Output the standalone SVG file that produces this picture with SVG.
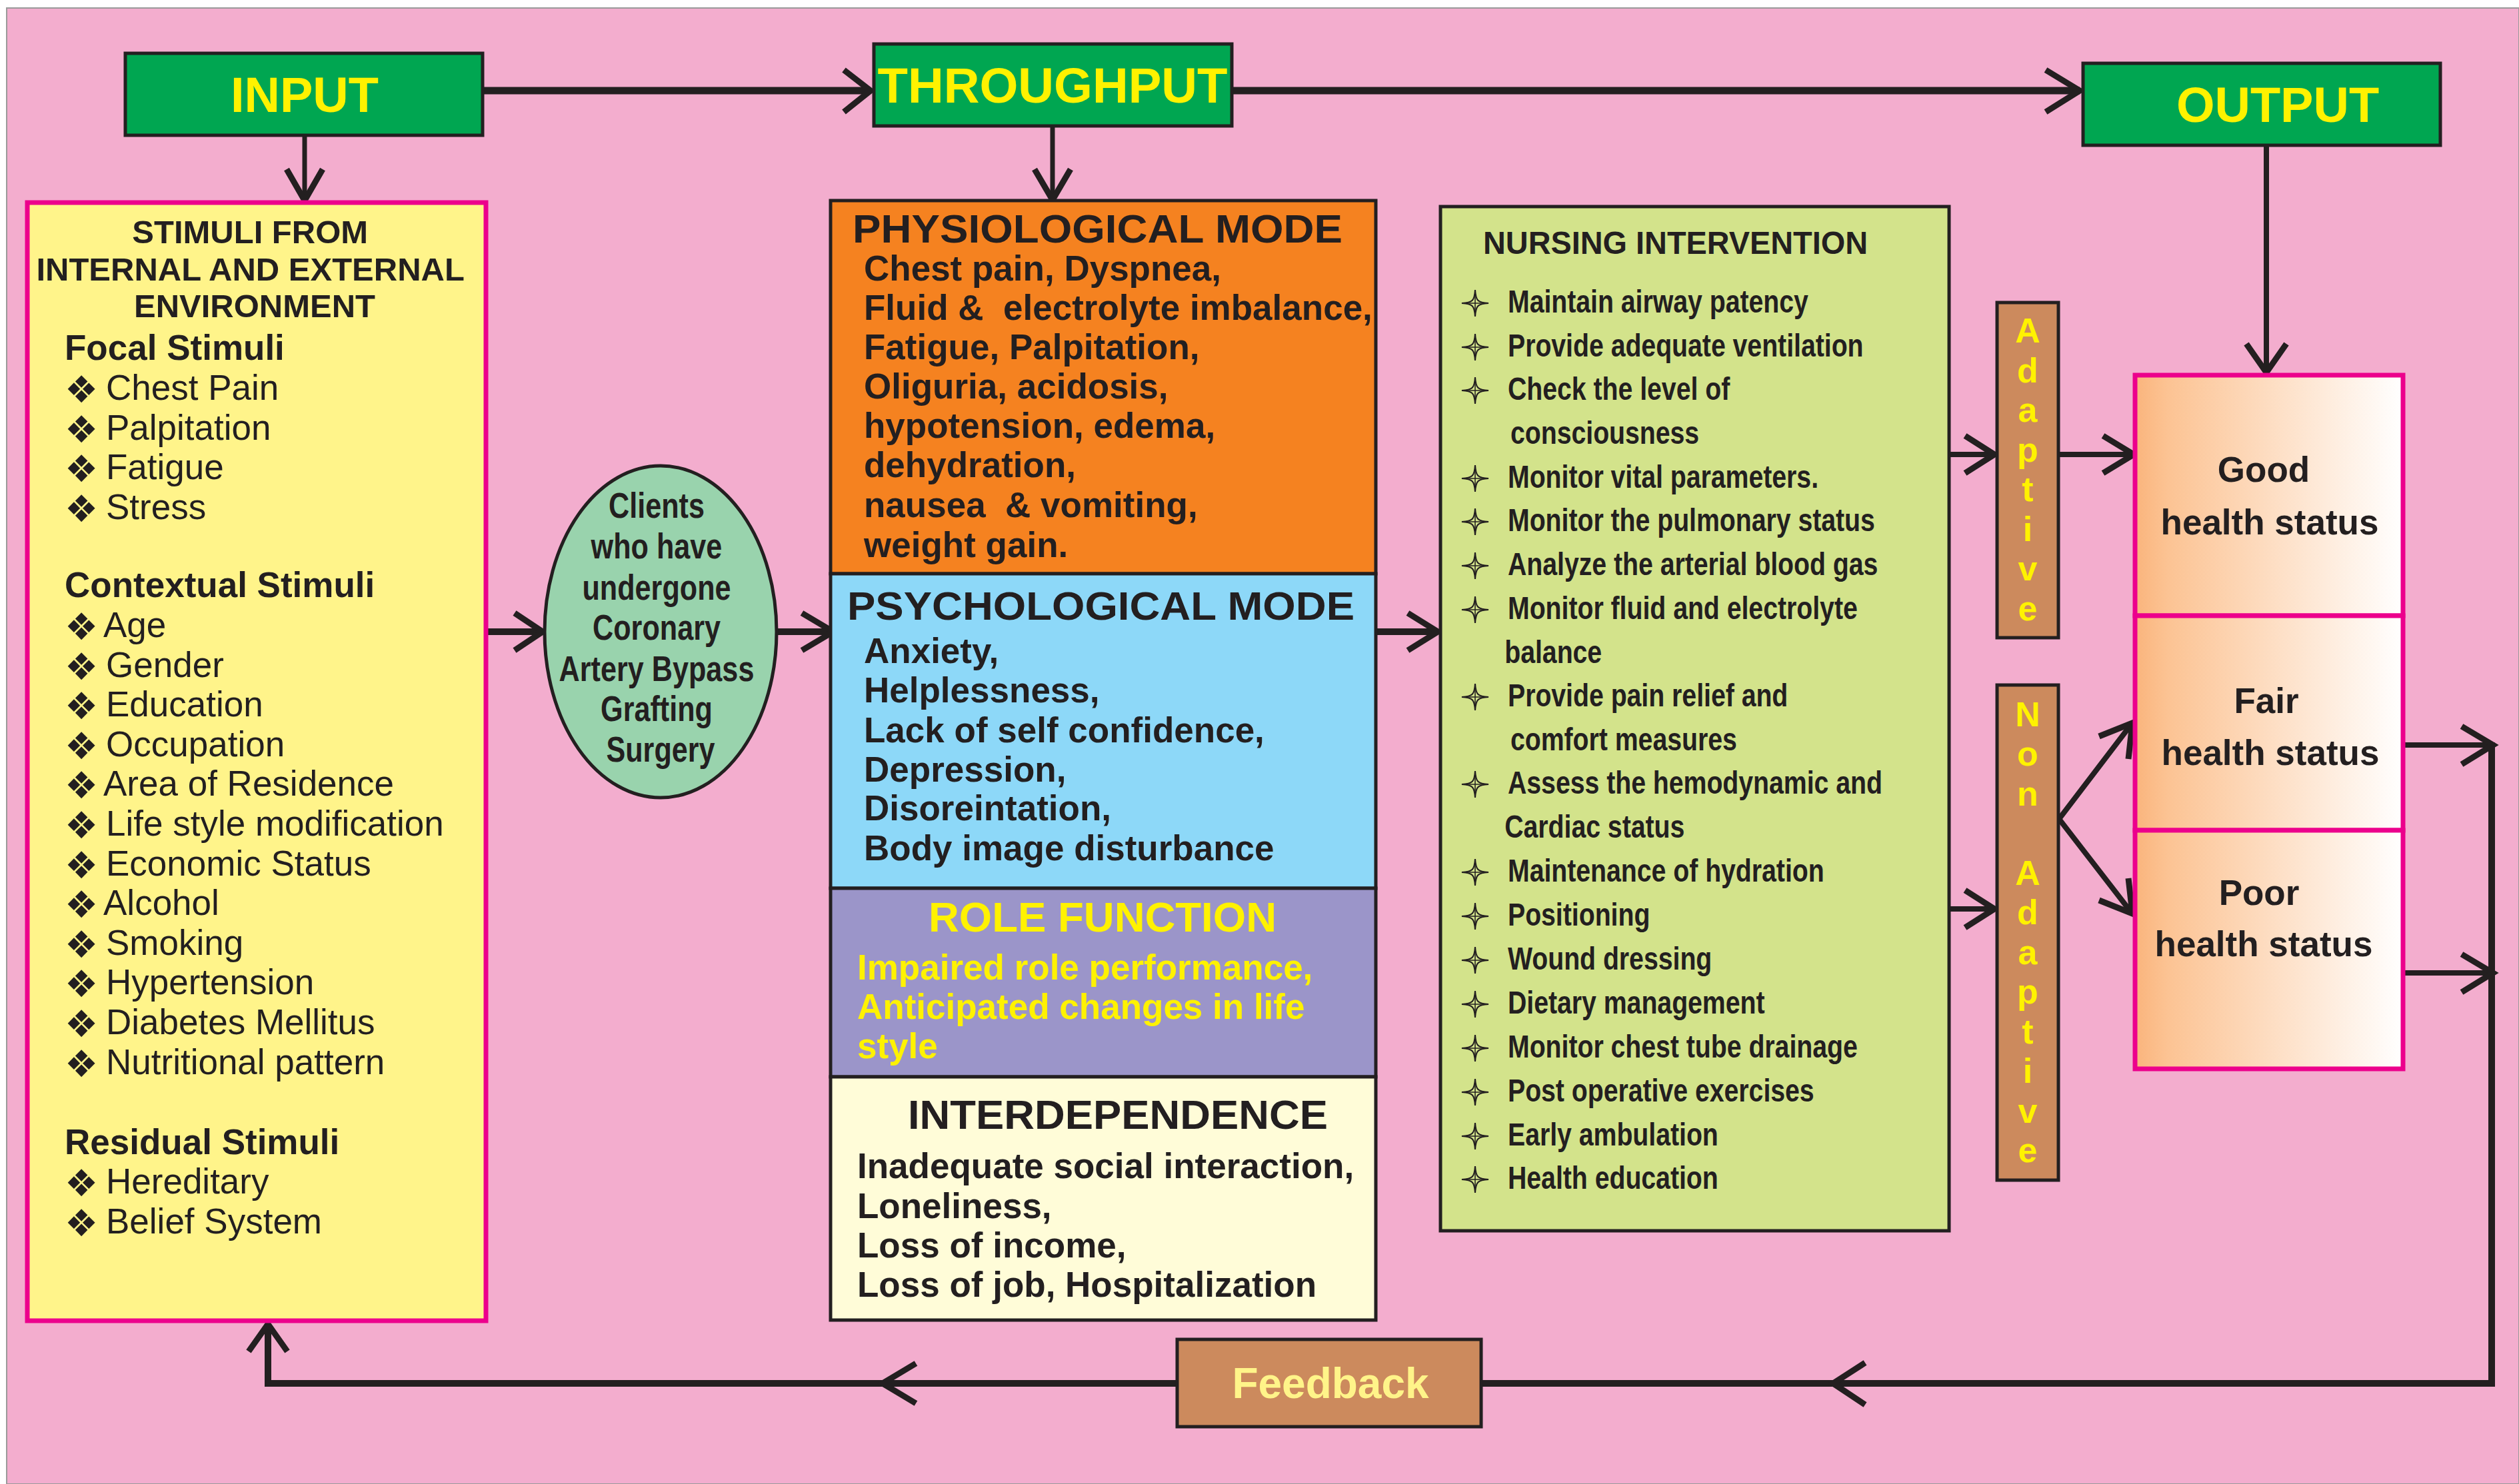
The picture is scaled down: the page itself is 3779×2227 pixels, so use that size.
<svg xmlns="http://www.w3.org/2000/svg" xmlns:xlink="http://www.w3.org/1999/xlink" width="3779" height="2227" viewBox="0 0 3779 2227">
<defs>
<style>
.t{font-family:"Liberation Sans",Arial,Helvetica,sans-serif;fill:#231F20}
.b{font-weight:bold}
.y{fill:#FFF200}
.box{stroke:#231F20;stroke-width:5}
.ln{stroke:#231F20;fill:none;stroke-linejoin:miter;stroke-linecap:butt}
.hd{stroke:#231F20;fill:none;stroke-width:9;stroke-linejoin:miter;stroke-miterlimit:10}
.bul{font-family:"DejaVu Sans",sans-serif;font-size:56px;fill:#231F20}
.pre{white-space:pre}
.hs{fill:url(#hg);stroke:#EC008C;stroke-width:7}
</style>
<linearGradient id="hg" x1="0" y1="0" x2="1" y2="0">
<stop offset="0" stop-color="#FAB47C"/>
<stop offset="0.12" stop-color="#FCC393"/>
<stop offset="1" stop-color="#FFFFFF"/>
</linearGradient>
<symbol id="star" viewBox="-22 -22 44 44" overflow="visible">
<path d="M0,-21 C1,-4 4,-1 21,0 C4,1 1,4 0,21 C-1,4 -4,1 -21,0 C-4,-1 -1,-4 0,-21 Z" fill="none" stroke="#231F20" stroke-width="2.2"/>
<path d="M0,-14 V14 M-14,0 H14" stroke="#231F20" stroke-width="1.6"/>
</symbol>
</defs>

<rect x="0" y="0" width="3779" height="2227" fill="#FFFFFF"/>
<rect x="10" y="12" width="3769" height="2215" fill="#F3ADCE" stroke="#9A9A9A" stroke-width="2"/>

<g id="connectors">
<path class="ln" stroke-width="11" d="M724,136 H1305"/>
<polyline class="hd" points="1266,105 1306,136 1266,168"/>
<path class="ln" stroke-width="11" d="M1848,136 H3120"/>
<polyline class="hd" points="3069,105 3120,136 3069,168"/>
<path class="ln" stroke-width="7" d="M457,203 V298"/>
<polyline class="hd" stroke-width="7" points="430,254 457,301 484,254"/>
<path class="ln" stroke-width="7" d="M1579,189 V297"/>
<polyline class="hd" stroke-width="7" points="1552,254 1579,300 1606,254"/>
<path class="ln" stroke-width="8" d="M3400,218 V557"/>
<polyline class="hd" points="3370,516 3400,559 3430,516"/>
<path class="ln" stroke-width="10" d="M729,948 H812"/>
<polyline class="hd" points="772,920 814,948 772,976"/>
<path class="ln" stroke-width="10" d="M1166,948 H1248"/>
<polyline class="hd" points="1203,920 1250,948 1203,976"/>
<path class="ln" stroke-width="10" d="M2064,948 H2156"/>
<polyline class="hd" points="2112,920 2157,948 2112,976"/>
<path class="ln" stroke-width="8" d="M2924,682 H2990"/>
<polyline class="hd" stroke-width="8" points="2948,654 2992,682 2948,710"/>
<path class="ln" stroke-width="8" d="M3088,682 H3200"/>
<polyline class="hd" stroke-width="8" points="3155,654 3201,682 3155,710"/>
<path class="ln" stroke-width="8" d="M2924,1364 H2990"/>
<polyline class="hd" stroke-width="8" points="2948,1336 2992,1364 2948,1392"/>
<path class="ln" stroke-width="8" d="M3198,1086 L3089,1229 L3198,1370"/>
<polyline class="hd" stroke-width="8" points="3149,1105 3199,1085 3193,1139"/>
<polyline class="hd" stroke-width="8" points="3149,1351 3199,1371 3193,1318"/>
<path class="ln" stroke-width="8" d="M3605,1118 H3738"/>
<polyline class="hd" stroke-width="8" points="3693,1090 3740,1118 3693,1147"/>
<path class="ln" stroke-width="8" d="M3605,1460 H3738"/>
<polyline class="hd" stroke-width="8" points="3693,1432 3740,1460 3693,1489"/>
<path class="ln" stroke-width="10" d="M3738,1114 V2076 H402 V1988"/>
<polyline class="hd" stroke="#3A3A3A" points="2798,2045 2750,2076 2798,2108"/>
<polyline class="hd" stroke="#3A3A3A" points="1374,2046 1324,2076 1374,2106"/>
<polyline class="hd" points="373,2028 402,1987 431,2028"/>
</g>

<g id="input">
<rect class="box" x="188" y="80" width="536" height="123" fill="#00A651"/>
<text class="t b y" x="457" y="168" font-size="74" text-anchor="middle">INPUT</text>
</g>
<g id="throughput">
<rect class="box" x="1311" y="66" width="537" height="123" fill="#00A651"/>
<text class="t b y" x="1579" y="154" font-size="74" text-anchor="middle" textLength="525" lengthAdjust="spacingAndGlyphs">THROUGHPUT</text>
</g>
<g id="output">
<rect class="box" x="3125" y="95" width="536" height="123" fill="#00A651"/>
<text class="t b y" x="3417" y="183" font-size="74" text-anchor="middle">OUTPUT</text>
</g>

<g id="stimuli">
<rect x="41" y="304" width="688" height="1678" fill="#FFF48A" stroke="#EC008C" stroke-width="7"/>
<text class="t b" font-size="49" text-anchor="middle">
<tspan x="382" y="365">STIMULI FROM</tspan>
<tspan x="382" y="421">INTERNAL AND EXTERNAL</tspan>
<tspan x="382" y="476">ENVIRONMENT</tspan>
</text>
<text class="t b" x="97" y="540" font-size="53">Focal Stimuli</text>
<text class="t b" x="97" y="896" font-size="53">Contextual Stimuli</text>
<text class="t b" x="97" y="1732" font-size="53">Residual Stimuli</text>
<g class="bul">
<text x="97" y="604">❖</text><text x="97" y="664">❖</text><text x="97" y="723">❖</text><text x="97" y="783">❖</text>
<text x="97" y="960">❖</text><text x="97" y="1020">❖</text><text x="97" y="1079">❖</text><text x="97" y="1139">❖</text>
<text x="97" y="1198">❖</text><text x="97" y="1258">❖</text><text x="97" y="1318">❖</text><text x="97" y="1377">❖</text>
<text x="97" y="1437">❖</text><text x="97" y="1496">❖</text><text x="97" y="1556">❖</text><text x="97" y="1616">❖</text>
<text x="97" y="1795">❖</text><text x="97" y="1855">❖</text>
</g>
<text class="t" font-size="53">
<tspan x="159" y="600">Chest Pain</tspan>
<tspan x="159" y="660">Palpitation</tspan>
<tspan x="159" y="719">Fatigue</tspan>
<tspan x="159" y="779">Stress</tspan>
<tspan x="155" y="956">Age</tspan>
<tspan x="159" y="1016">Gender</tspan>
<tspan x="159" y="1075">Education</tspan>
<tspan x="159" y="1135">Occupation</tspan>
<tspan x="155" y="1194">Area of Residence</tspan>
<tspan x="159" y="1254">Life style modification</tspan>
<tspan x="159" y="1314">Economic Status</tspan>
<tspan x="155" y="1373">Alcohol</tspan>
<tspan x="159" y="1433">Smoking</tspan>
<tspan x="159" y="1492">Hypertension</tspan>
<tspan x="159" y="1552">Diabetes Mellitus</tspan>
<tspan x="159" y="1612">Nutritional pattern</tspan>
<tspan x="159" y="1791">Hereditary</tspan>
<tspan x="159" y="1851">Belief System</tspan>
</text>
</g>

<g id="clients">
<ellipse cx="991" cy="948" rx="174" ry="249" fill="#99D3AD" stroke="#231F20" stroke-width="5"/>
<g transform="translate(991 0) scale(0.815 1)">
<text class="t b" font-size="53" text-anchor="middle">
<tspan x="0" y="777">Clients</tspan>
<tspan x="0" y="838">who have</tspan>
<tspan x="0" y="900">undergone</tspan>
<tspan x="0" y="960">Coronary</tspan>
<tspan x="0" y="1022">Artery Bypass</tspan>
<tspan x="0" y="1082">Grafting</tspan>
<tspan x="0" y="1143">Surgery</tspan>
</text>
</g>
</g>

<g id="physiological">
<rect class="box" x="1246" y="301" width="818" height="560" fill="#F58220"/>
<text class="t b" x="1279" y="364" font-size="60" textLength="735" lengthAdjust="spacingAndGlyphs">PHYSIOLOGICAL MODE</text>
<text class="t b pre" font-size="53">
<tspan x="1296" y="421">Chest pain, Dyspnea,</tspan>
<tspan x="1296" y="480">Fluid &amp;  electrolyte imbalance,</tspan>
<tspan x="1296" y="539">Fatigue, Palpitation,</tspan>
<tspan x="1296" y="598">Oliguria, acidosis,</tspan>
<tspan x="1296" y="657">hypotension, edema,</tspan>
<tspan x="1296" y="716">dehydration,</tspan>
<tspan x="1296" y="776">nausea  &amp; vomiting,</tspan>
<tspan x="1296" y="836">weight gain.</tspan>
</text>
</g>

<g id="psychological">
<rect class="box" x="1246" y="861" width="818" height="472" fill="#8DD8F8"/>
<text class="t b" x="1271" y="930" font-size="60" textLength="761" lengthAdjust="spacingAndGlyphs">PSYCHOLOGICAL MODE</text>
<text class="t b" font-size="53">
<tspan x="1296" y="995">Anxiety,</tspan>
<tspan x="1296" y="1054">Helplessness,</tspan>
<tspan x="1296" y="1114">Lack of self confidence,</tspan>
<tspan x="1296" y="1173">Depression,</tspan>
<tspan x="1296" y="1231">Disoreintation,</tspan>
<tspan x="1296" y="1291">Body image disturbance</tspan>
</text>
</g>

<g id="role-function">
<rect class="box" x="1246" y="1333" width="818" height="283" fill="#9B95C9"/>
<text class="t b y" x="1654" y="1398" font-size="63" text-anchor="middle" textLength="522" lengthAdjust="spacingAndGlyphs">ROLE FUNCTION</text>
<text class="t b y" font-size="53">
<tspan x="1286" y="1470">Impaired role performance,</tspan>
<tspan x="1286" y="1529">Anticipated changes in life</tspan>
<tspan x="1286" y="1588">style</tspan>
</text>
</g>

<g id="interdependence">
<rect class="box" x="1246" y="1616" width="818" height="365" fill="#FFFCD8"/>
<text class="t b" x="1362" y="1694" font-size="62" textLength="630" lengthAdjust="spacingAndGlyphs">INTERDEPENDENCE</text>
<text class="t b" font-size="53">
<tspan x="1286" y="1768">Inadequate social interaction,</tspan>
<tspan x="1286" y="1828">Loneliness,</tspan>
<tspan x="1286" y="1887">Loss of income,</tspan>
<tspan x="1286" y="1946">Loss of job, Hospitalization</tspan>
</text>
</g>

<g id="nursing-intervention">
<rect class="box" x="2161" y="310" width="763" height="1537" fill="#D3E38B"/>
<text class="t b" x="2225" y="381" font-size="49" textLength="577" lengthAdjust="spacingAndGlyphs">NURSING INTERVENTION</text>
<g>
<use xlink:href="#star" x="2192" y="434" width="42" height="42"/>
<use xlink:href="#star" x="2192" y="500" width="42" height="42"/>
<use xlink:href="#star" x="2192" y="565" width="42" height="42"/>
<use xlink:href="#star" x="2192" y="697" width="42" height="42"/>
<use xlink:href="#star" x="2192" y="762" width="42" height="42"/>
<use xlink:href="#star" x="2192" y="828" width="42" height="42"/>
<use xlink:href="#star" x="2192" y="894" width="42" height="42"/>
<use xlink:href="#star" x="2192" y="1025" width="42" height="42"/>
<use xlink:href="#star" x="2192" y="1156" width="42" height="42"/>
<use xlink:href="#star" x="2192" y="1288" width="42" height="42"/>
<use xlink:href="#star" x="2192" y="1354" width="42" height="42"/>
<use xlink:href="#star" x="2192" y="1420" width="42" height="42"/>
<use xlink:href="#star" x="2192" y="1486" width="42" height="42"/>
<use xlink:href="#star" x="2192" y="1552" width="42" height="42"/>
<use xlink:href="#star" x="2192" y="1618" width="42" height="42"/>
<use xlink:href="#star" x="2192" y="1684" width="42" height="42"/>
<use xlink:href="#star" x="2192" y="1749" width="42" height="42"/>
</g>
<g transform="translate(2262 0) scale(0.8 1)">
<text class="t b" font-size="49">
<tspan x="0" y="469">Maintain airway patency</tspan>
<tspan x="0" y="535">Provide adequate ventilation</tspan>
<tspan x="0" y="600">Check the level of</tspan>
<tspan x="5" y="666">consciousness</tspan>
<tspan x="0" y="732">Monitor vital parameters.</tspan>
<tspan x="0" y="797">Monitor the pulmonary status</tspan>
<tspan x="0" y="863">Analyze the arterial blood gas</tspan>
<tspan x="0" y="929">Monitor fluid and electrolyte</tspan>
<tspan x="-6" y="995">balance</tspan>
<tspan x="0" y="1060">Provide pain relief and</tspan>
<tspan x="5" y="1126">comfort measures</tspan>
<tspan x="0" y="1191">Assess the hemodynamic and</tspan>
<tspan x="-6" y="1257">Cardiac status</tspan>
<tspan x="0" y="1323">Maintenance of hydration</tspan>
<tspan x="0" y="1389">Positioning</tspan>
<tspan x="0" y="1455">Wound dressing</tspan>
<tspan x="0" y="1521">Dietary management</tspan>
<tspan x="0" y="1587">Monitor chest tube drainage</tspan>
<tspan x="0" y="1653">Post operative exercises</tspan>
<tspan x="0" y="1719">Early ambulation</tspan>
<tspan x="0" y="1784">Health education</tspan>
</text>
</g>
</g>

<g id="adaptive">
<rect x="2996" y="454" width="92" height="503" fill="#CC8A5D" stroke="#231F20" stroke-width="5"/>
<text class="t b y" font-size="52" text-anchor="middle">
<tspan x="3042" y="514">A</tspan><tspan x="3042" y="574">d</tspan><tspan x="3042" y="633">a</tspan><tspan x="3042" y="693">p</tspan><tspan x="3042" y="752">t</tspan><tspan x="3042" y="812">i</tspan><tspan x="3042" y="871">v</tspan><tspan x="3042" y="931">e</tspan>
</text>
</g>

<g id="non-adaptive">
<rect x="2996" y="1028" width="92" height="743" fill="#CC8A5D" stroke="#231F20" stroke-width="5"/>
<text class="t b y" font-size="52" text-anchor="middle">
<tspan x="3042" y="1090">N</tspan><tspan x="3042" y="1149">o</tspan><tspan x="3042" y="1209">n</tspan><tspan x="3042" y="1328">A</tspan><tspan x="3042" y="1387">d</tspan><tspan x="3042" y="1447">a</tspan><tspan x="3042" y="1506">p</tspan><tspan x="3042" y="1566">t</tspan><tspan x="3042" y="1625">i</tspan><tspan x="3042" y="1685">v</tspan><tspan x="3042" y="1744">e</tspan>
</text>
</g>

<g id="good-health">
<rect class="hs" x="3203" y="563" width="402" height="361"/>
<text class="t b" font-size="53" text-anchor="middle"><tspan x="3396" y="723">Good</tspan><tspan x="3405" y="802">health status</tspan></text>
</g>
<g id="fair-health">
<rect class="hs" x="3203" y="924" width="402" height="322"/>
<text class="t b" font-size="53" text-anchor="middle"><tspan x="3400" y="1070">Fair</tspan><tspan x="3406" y="1148">health status</tspan></text>
</g>
<g id="poor-health">
<rect class="hs" x="3203" y="1246" width="402" height="358"/>
<text class="t b" font-size="53" text-anchor="middle"><tspan x="3389" y="1358">Poor</tspan><tspan x="3396" y="1435">health status</tspan></text>
</g>

<g id="feedback">
<rect class="box" x="1766" y="2010" width="456" height="131" fill="#CC8A5D"/>
<text class="t b" x="1996" y="2098" font-size="64" text-anchor="middle" style="fill:#FFF489">Feedback</text>
</g>
</svg>
